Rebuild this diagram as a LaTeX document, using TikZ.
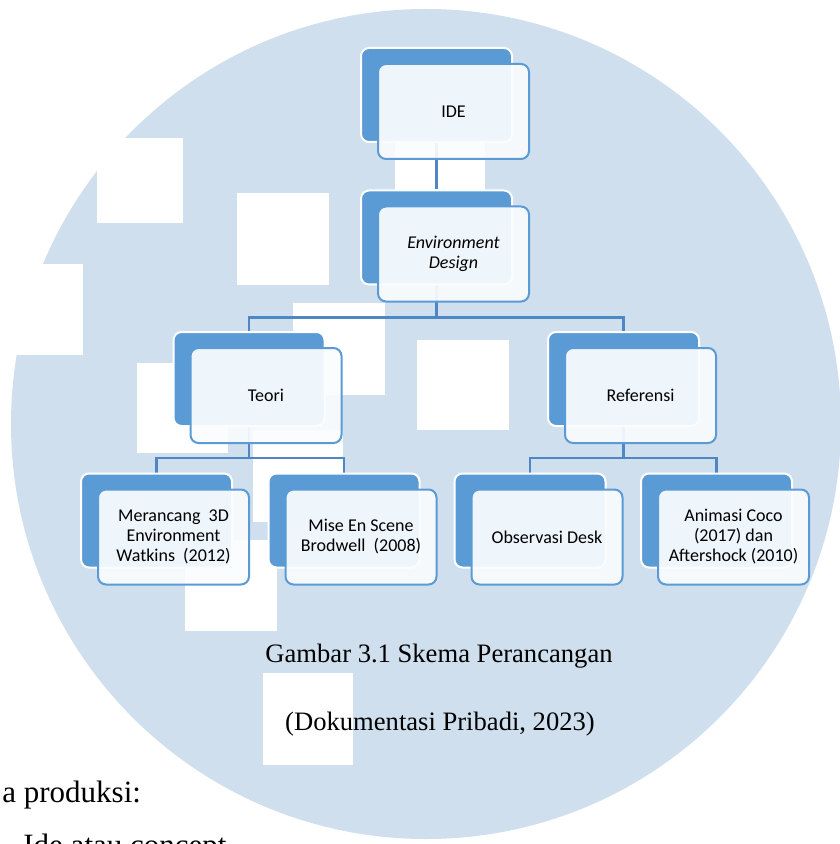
\documentclass[tikz,border=0pt]{standalone}
\usepackage{fontspec}
\setmainfont{Liberation Serif}
\newfontfamily\boxfont{Carlito}
\usetikzlibrary{calc,backgrounds}
\definecolor{cwm}{HTML}{CFDFEE}
\definecolor{cacc}{HTML}{5B9BD5}
\definecolor{clink}{HTML}{4F86C4}
\definecolor{cfront}{HTML}{FAFCFE}

\begin{document}
\begin{tikzpicture}[
  x=0.5pt, y=-0.5pt,
  font=\boxfont\fontsize{9}{10}\selectfont,
  back/.style={draw=white, line width=1pt, fill=cacc, rounded corners=4pt,
               minimum width=75.5pt, minimum height=47pt, inner sep=0pt},
  front/.style={draw=cacc, line width=1pt, fill=cfront, fill opacity=0.93, text opacity=1,
                rounded corners=4pt, minimum width=75.5pt, minimum height=47.5pt,
                align=center, inner sep=2pt},
  link/.style={draw=clink, line width=1.2pt},
  wm/.style={fill=white},
  captext/.style={font=\fontsize{13.3}{15}\selectfont, anchor=base},
  body/.style={font=\fontsize{15.5}{18}\selectfont, anchor=base west, inner sep=0pt},
]
\newcommand{\smartbox}[3]{%
  \node[back] (#1b) at (#2) {};
  \node[front] (#1) at ($(#1b)+(17,16.5)$) {#3};}

\useasboundingbox (0,0) rectangle (839,844);
\clip (0,0) rectangle (839,844);

% ------------------------------------------------------------------ boxes
\smartbox{ide}{436.5,95}{IDE}
\smartbox{env}{436.5,237.5}{\textit{Environment}\\\textit{Design}}
\smartbox{teori}{249,379}{Teori}
\smartbox{ref}{623.5,379}{Referensi}
\smartbox{watk}{156.5,520.5}{Merancang\ \ 3D\\Environment\\Watkins\ \ (2012)}
\smartbox{mise}{344,520.5}{Mise En Scene\\Brodwell\ \ (2008)}
\smartbox{obs}{530,520.5}{Observasi Desk}
\smartbox{coco}{716.5,520.5}{Animasi Coco\\(2017) dan\\Aftershock (2010)}

% ------------------------------------------------------------------ captions and text
\node[captext] (fig) at (439,662) {Gambar 3.1 Skema Perancangan};
\node[captext] (src) at (440,730) {(Dokumentasi Pribadi, 2023)};
\node[body] (prod) at (2,802) {a produksi:};
\node[body] (idea) at (23,855) {Ide atau concept};

% ------------------------------------------------------------------ watermark and links
\begin{scope}[on background layer]
  \fill[white] (0,0) rectangle (839,844);
  \fill[cwm] (426,424) circle[radius=415];
  \fill[wm] (97,138) rectangle (183,223);
  \fill[wm] (237,193) rectangle (329,285);
  \fill[wm] (-5,264) rectangle (83,355);
  \fill[wm] (293,303) rectangle (385,395);
  \fill[wm] (137,363) rectangle (228,453);
  \fill[wm] (417,340) rectangle (509,430);
  \fill[wm] (185,540) rectangle (277,631);
  \fill[wm] (263,673) rectangle (353,765);
  \fill[wm] (395,98) rectangle (485,190);
  \fill[wm] (253,430) rectangle (343,522);

  \draw[link] (ideb.south) -- (envb.north);
  \draw[link] (envb.south) -- ++(0,32) -| (teorib.north);
  \draw[link] (envb.south) -- ++(0,32) -| (refb.north);
  \draw[link] (teorib.south) -- ++(0,31) -| (watkb.north);
  \draw[link] (teorib.south) -- ++(0,31) -| (miseb.north);
  \draw[link] (refb.south) -- ++(0,31) -| (obsb.north);
  \draw[link] (refb.south) -- ++(0,31) -| (cocob.north);
\end{scope}
\end{tikzpicture}
\end{document}
